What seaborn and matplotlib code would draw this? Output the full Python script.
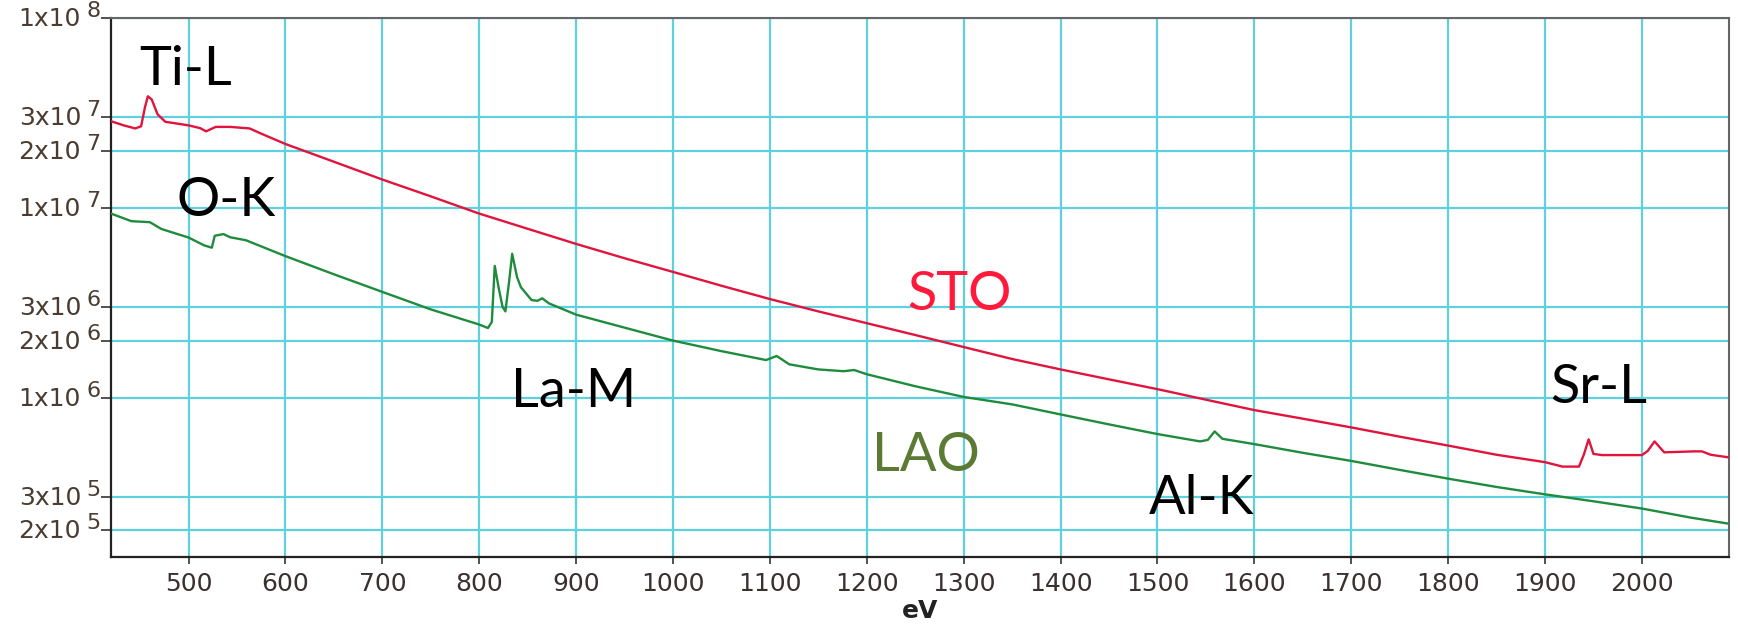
import numpy as np
import pandas as pd
import matplotlib
matplotlib.use("Agg")
import matplotlib.pyplot as plt
import matplotlib.ticker as mticker
import matplotlib.transforms as mtrans
from matplotlib import font_manager
import seaborn as sns

# ---------------- data ----------------
sto_ev = [420, 433, 445, 451, 455, 458, 462, 468, 476, 488, 500, 512, 518, 528, 543,
          563, 575, 600, 650, 700, 750, 800, 850, 900, 950, 1000, 1050, 1100, 1150,
          1200, 1250, 1300, 1350, 1400, 1450, 1500, 1550, 1600, 1650, 1700, 1750,
          1800, 1850, 1900, 1918, 1935, 1940, 1945, 1950, 1959, 2000, 2006, 2013,
          2023, 2054, 2062, 2071, 2090]
sto_counts = [2.86e7, 2.72e7, 2.62e7, 2.69e7, 3.39e7, 3.87e7, 3.72e7, 3.11e7, 2.84e7,
              2.78e7, 2.72e7, 2.63e7, 2.53e7, 2.67e7, 2.67e7, 2.62e7, 2.46e7, 2.17e7,
              1.75e7, 1.41e7, 1.15e7, 9.33e6, 7.76e6, 6.46e6, 5.43e6, 4.60e6, 3.89e6,
              3.31e6, 2.85e6, 2.47e6, 2.14e6, 1.85e6, 1.60e6, 1.41e6, 1.25e6, 1.11e6,
              9.77e5, 8.61e5, 7.76e5, 6.98e5, 6.24e5, 5.60e5, 5.01e5, 4.58e5, 4.34e5,
              4.34e5, 5.01e5, 6.04e5, 5.06e5, 4.99e5, 4.99e5, 5.25e5, 5.89e5, 5.16e5,
              5.22e5, 5.22e5, 5.01e5, 4.85e5]

lao_ev = [420, 441, 460, 472, 500, 516, 524, 527, 536, 543, 559, 600, 650, 700, 750,
          800, 809, 813, 816, 820, 824, 827, 831, 834, 839, 843, 854, 860, 865, 872,
          900, 950, 1000, 1050, 1096, 1107, 1120, 1150, 1176, 1187, 1200, 1250, 1300,
          1350, 1400, 1450, 1500, 1544, 1552, 1559, 1567, 1600, 1650, 1700, 1750,
          1800, 1850, 1900, 1950, 2000, 2050, 2090]
lao_counts = [9.33e6, 8.51e6, 8.41e6, 7.74e6, 6.98e6, 6.35e6, 6.17e6, 7.13e6, 7.28e6,
              7.00e6, 6.76e6, 5.57e6, 4.47e6, 3.61e6, 2.92e6, 2.43e6, 2.33e6, 2.51e6,
              4.95e6, 3.80e6, 3.02e6, 2.85e6, 4.17e6, 5.73e6, 4.32e6, 3.82e6, 3.27e6,
              3.24e6, 3.34e6, 3.14e6, 2.74e6, 2.34e6, 2.00e6, 1.76e6, 1.58e6, 1.66e6,
              1.50e6, 1.41e6, 1.38e6, 1.40e6, 1.33e6, 1.15e6, 1.01e6, 9.23e5, 8.17e5,
              7.24e5, 6.44e5, 5.89e5, 6.00e5, 6.65e5, 6.08e5, 5.70e5, 5.13e5, 4.65e5,
              4.17e5, 3.75e5, 3.39e5, 3.10e5, 2.85e5, 2.61e5, 2.34e5, 2.17e5]

x_ticks = [500, 600, 700, 800, 900, 1000, 1100, 1200, 1300, 1400, 1500, 1600, 1700,
           1800, 1900, 2000]
y_ticks = [2e5, 3e5, 1e6, 2e6, 3e6, 1e7, 2e7, 3e7, 1e8]
y_tick_mantissa = ["2x10", "3x10", "1x10", "2x10", "3x10", "1x10", "2x10", "3x10", "1x10"]
y_tick_exponent = ["5", "5", "6", "6", "6", "7", "7", "7", "8"]
x_label = "eV"

note_texts = ["Ti-L", "O-K", "La-M", "STO", "LAO", "Al-K", "Sr-L"]
note_ev = [497, 539, 897, 1296, 1261, 1546, 1955]
note_counts = [4.45e7, 9.1e6, 8.9e5, 2.9e6, 4.1e5, 2.43e5, 9.4e5]
note_colors = ["black", "black", "black", "#ff1a3c", "#5b7a34", "black", "black"]

series_colors = {"STO": "#e0143c", "LAO": "#1e8c3c"}

# ---------------- styling ----------------
sns.set_theme(style="white")


def pick(fams):
    out = []
    for f in fams:
        try:
            font_manager.findfont(font_manager.FontProperties(family=f),
                                  fallback_to_default=False)
            out.append(f)
        except Exception:
            pass
    return out + ["DejaVu Sans"]


tick_fonts = pick(["Liberation Sans Narrow", "DejaVu Sans Condensed"])
note_fonts = pick(["Lato", "Open Sans"])
plt.rcParams["font.family"] = tick_fonts

df = pd.concat([
    pd.DataFrame({"eV": sto_ev, "counts": sto_counts, "sample": "STO"}),
    pd.DataFrame({"eV": lao_ev, "counts": lao_counts, "sample": "LAO"}),
], ignore_index=True)

fig = plt.figure(figsize=(17.38, 6.36), dpi=100)
ax = fig.add_axes([0.0639, 0.1242, 0.931, 0.8475])

sns.lineplot(data=df, x="eV", y="counts", hue="sample", palette=series_colors,
             estimator=None, legend=False, linewidth=1.7, ax=ax, zorder=3)

ax.set_yscale("log")
ax.set_xlim(420, 2090)
ax.set_ylim(1.45e5, 1e8)
ax.xaxis.set_major_locator(mticker.FixedLocator(x_ticks))
ax.xaxis.set_minor_locator(mticker.NullLocator())
ax.yaxis.set_major_locator(mticker.FixedLocator(y_ticks))
ax.yaxis.set_minor_locator(mticker.NullLocator())
ax.set_xticklabels([str(v) for v in x_ticks])
ax.set_yticklabels([""] * len(y_ticks))

ax.grid(True, which="major", color="#5fd0de", linewidth=1.6, zorder=0)
ax.set_axisbelow(True)

for side in ["left", "bottom"]:
    ax.spines[side].set_color("#222222")
    ax.spines[side].set_linewidth(1.6)
for side in ["top", "right"]:
    ax.spines[side].set_color("#666666")
    ax.spines[side].set_linewidth(1.5)
    ax.spines[side].set_visible(True)

ax.tick_params(axis="x", which="major", direction="out", length=5, width=1.2,
               color="#333333", labelsize=18, labelcolor="#3a3030", pad=6,
               bottom=True)
ax.tick_params(axis="y", which="major", direction="out", length=7, width=1.2,
               color="#333333", left=True)

# y tick labels drawn as "mantissa" + raised, large exponent (as in the reference)
base = mtrans.blended_transform_factory(ax.transAxes, ax.transData)
t_main = base + mtrans.ScaledTranslation(-30 / 100, -1 / 100, fig.dpi_scale_trans)
t_exp = base + mtrans.ScaledTranslation(-25 / 100, 7 / 100, fig.dpi_scale_trans)
for v, m, e in zip(y_ticks, y_tick_mantissa, y_tick_exponent):
    ax.text(0, v, m, transform=t_main, ha="right", va="center", fontsize=18,
            color="#4a3c30")
    ax.text(0, v, e, transform=t_exp, ha="left", va="center", fontsize=16,
            color="#4a3c30")

ax.set_xlabel(x_label, fontsize=18, color="#222222", labelpad=2, fontweight="bold")
ax.set_ylabel("")

for t, xv, yv, c in zip(note_texts, note_ev, note_counts, note_colors):
    ax.text(xv, yv, t, color=c, fontsize=39, family=note_fonts,
            ha="center", va="baseline", zorder=5)

fig.savefig("out.png", dpi=100)
